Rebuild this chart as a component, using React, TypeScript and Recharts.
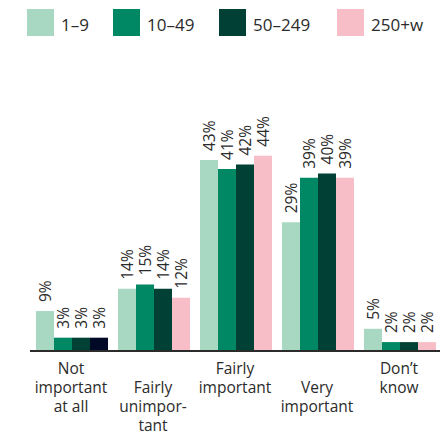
import React from 'react';
import { BarChart, Bar, XAxis, YAxis, LabelList, Cell } from 'recharts';

const categories = ['Not\nimportant\nat all', 'Fairly\nunimpor-\ntant', 'Fairly\nimportant', 'Very\nimportant', 'Don\u2019t\nknow'];
const sizes = ['1\u20139', '10\u201349', '50\u2013249', '250+w'];
const micro = [9, 14, 43, 29, 5];
const small = [3, 15, 41, 39, 2];
const medium = [3, 14, 42, 40, 2];
const large = [3, 12, 44, 39, 2];

const COLORS = ['#a8d8c1', '#008763', '#014034', '#f7bec7'];
const ODD_BAR = '#000a26';
const FONT = '"Open Sans", Lato, sans-serif';
const TEXT = '#2b2b2b';
const LEGEND_WIDTHS = [86, 106, 118, 90];

const data = categories.map((name, i) => ({
  name,
  s0: micro[i],
  s1: small[i],
  s2: medium[i],
  s3: large[i],
}));

const ValueLabel = (props: any) => {
  const { x, y, width, value } = props;
  const cx = x + width / 2;
  const ty = y - 9;
  return (
    <text
      x={cx}
      y={ty}
      transform={`rotate(-90, ${cx}, ${ty})`}
      dominantBaseline="central"
      textAnchor="start"
      fontSize={15.5}
      fontFamily={FONT}
      fill={TEXT}
    >
      {value}%
    </text>
  );
};

// labels alternate: every second category starts one line lower
const CategoryTick = (props: any) => {
  const { x, y, payload, index } = props;
  const lines = String(payload.value).split('\n');
  const start = index % 2 === 1 ? 1 : 0;
  return (
    <text x={x} y={y} textAnchor="middle" fontSize={15.5} fontFamily={FONT} fill={TEXT}>
      {lines.map((l, i) => (
        <tspan key={i} x={x} y={y + 15 + (start + i) * 19}>
          {l}
        </tspan>
      ))}
    </text>
  );
};

export default function App() {
  return (
    <div style={{ position: 'absolute', left: 0, top: 0, width: 447, height: 435, background: '#fff' }}>
      <div style={{ position: 'absolute', left: 27, top: 9, display: 'flex', fontFamily: FONT, fontSize: 17, color: TEXT }}>
        {sizes.map((s, i) => (
          <div key={s} style={{ display: 'flex', alignItems: 'center', width: LEGEND_WIDTHS[i] }}>
            <div style={{ width: 27, height: 27, background: COLORS[i], marginRight: 7 }} />
            <span style={{ position: 'relative', top: 2 }}>{s}</span>
          </div>
        ))}
      </div>
      <BarChart
        width={447}
        height={435}
        data={data}
        margin={{ top: 129, right: 7, left: 30, bottom: 0 }}
        barCategoryGap={6}
        barGap={0}
      >
        <XAxis
          dataKey="name"
          height={84}
          interval={0}
          tickLine={false}
          axisLine={{ stroke: '#2b2b2b', strokeWidth: 2 }}
          tick={<CategoryTick />}
        />
        <YAxis hide width={0} domain={[0, 50]} />
        {['s0', 's1', 's2', 's3'].map((k, i) => (
          <Bar key={k} dataKey={k} fill={COLORS[i]} isAnimationActive={false}>
            {k === 's3' &&
              data.map((_, j) => <Cell key={j} fill={j === 0 ? ODD_BAR : COLORS[3]} />)}
            <LabelList dataKey={k} content={<ValueLabel />} />
          </Bar>
        ))}
      </BarChart>
    </div>
  );
}
